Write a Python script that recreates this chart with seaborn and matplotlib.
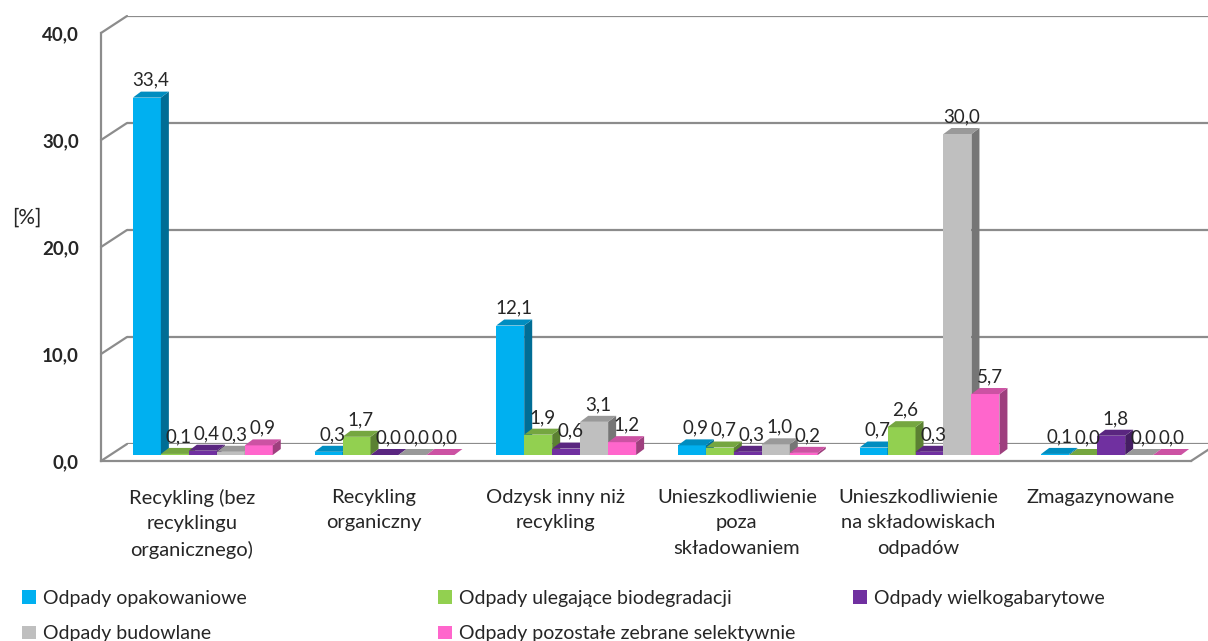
import numpy as np
import pandas as pd
import seaborn as sns
import matplotlib.pyplot as plt
from matplotlib.patches import Polygon, Patch
from matplotlib.lines import Line2D
import matplotlib.colors as mcolors

# ---------------------------------------------------------------
# data
# ---------------------------------------------------------------
categories = [
    "Recykling (bez\nrecyklingu\norganicznego)",
    "Recykling\norganiczny",
    "Odzysk inny niż\nrecykling",
    "Unieszkodliwienie\npoza\nskładowaniem",
    "Unieszkodliwienie\nna składowiskach\nodpadów",
    "Zmagazynowane",
]
series = [
    "Odpady opakowaniowe",
    "Odpady ulegające biodegradacji",
    "Odpady wielkogabarytowe",
    "Odpady budowlane",
    "Odpady pozostałe zebrane selektywnie",
]
opakowaniowe = [33.4, 0.3, 12.1, 0.9, 0.7, 0.1]
biodegradowalne = [0.1, 1.7, 1.9, 0.7, 2.6, 0.0]
wielkogabarytowe = [0.4, 0.0, 0.6, 0.3, 0.3, 1.8]
budowlane = [0.3, 0.0, 3.1, 1.0, 30.0, 0.0]
pozostale = [0.9, 0.0, 1.2, 0.2, 5.7, 0.0]
y_ticks = [0, 10, 20, 30, 40]

colors = ["#00B0F0", "#92D050", "#7030A0", "#BFBFBF", "#FF66CC"]

values = [opakowaniowe, biodegradowalne, wielkogabarytowe, budowlane, pozostale]
df = pd.DataFrame(
    [(cat, s, v[i]) for s, v in zip(series, values) for i, cat in enumerate(categories)],
    columns=["kategoria", "rodzaj", "udzial"],
)

sns.set_style("white")
plt.rcParams["font.family"] = ["Lato", "DejaVu Sans"]

W, H = 1208, 641
fig = plt.figure(figsize=(W / 100, H / 100), dpi=100)


def box(left, top, right, bottom):
    return [left / W, 1 - bottom / H, (right - left) / W, (bottom - top) / H]


GRID = "#8c8c8c"
ax_back = fig.add_axes(box(127, 16, 1217, 444))
ax_bars = fig.add_axes(box(112, 27, 1202, 455))
ax_front = fig.add_axes(box(101, 33, 1191, 461))

for ax in (ax_back, ax_bars, ax_front):
    ax.set_xlim(-0.5, 5.5)
    ax.set_ylim(0, 40)

# back wall with gridlines
ax_back.set_yticks(y_ticks)
ax_back.set_xticks([])
ax_back.tick_params(left=False, labelleft=False)
ax_back.grid(axis="y", color=GRID, lw=1.6)
for sp in ax_back.spines.values():
    sp.set_visible(False)

# bars
sns.barplot(data=df, x="kategoria", y="udzial", hue="rodzaj", order=categories,
            hue_order=series, palette=colors, saturation=1, width=0.77,
            legend=False, ax=ax_bars)
ax_bars.set_xlim(-0.5, 5.5)
ax_bars.set_ylim(0, 40)
ax_bars.set_axis_off()
ax_bars.patch.set_alpha(0)

px_x = (1090 / 6)
px_y = (428 / 40)
dx = 8 / px_x
dy = 6 / px_y

for k, (cont, col) in enumerate(zip(ax_bars.containers, colors)):
    rgb = np.array(mcolors.to_rgb(col))
    side_c = rgb * 0.62
    top_c = rgb * 0.8
    for bar in cont:
        x0, w, h = bar.get_x(), bar.get_width(), bar.get_height()
        bar.set_linewidth(0)
        bar.set_zorder(3 + k)
        side = Polygon([(x0 + w, 0), (x0 + w + dx, dy), (x0 + w + dx, h + dy), (x0 + w, h)],
                       closed=True, facecolor=side_c, lw=0, zorder=3.5 + k)
        top = Polygon([(x0, h), (x0 + w, h), (x0 + w + dx, h + dy), (x0 + dx, h + dy)],
                      closed=True, facecolor=top_c, lw=0, zorder=3.5 + k)
        ax_bars.add_patch(side)
        ax_bars.add_patch(top)
        ax_bars.annotate(f"{h:.1f}".replace(".", ","), xy=(x0 + w / 2 + dx / 2, h + dy),
                         xytext=(0, 2), textcoords="offset points", ha="center",
                         va="bottom", fontsize=13.5, zorder=20)

# front axis
ax_front.patch.set_alpha(0)
for name in ("top", "right"):
    ax_front.spines[name].set_visible(False)
for name in ("left", "bottom"):
    ax_front.spines[name].set_color(GRID)
    ax_front.spines[name].set_linewidth(1.6)
ax_front.set_yticks(y_ticks, labels=[f"{t:.1f}".replace(".", ",") for t in y_ticks])
ax_front.tick_params(axis="y", length=4, width=1.6, color=GRID, pad=12,
                     labelsize=13.5)
for lab in ax_front.get_yticklabels():
    lab.set_fontweight("bold")
ax_front.set_xticks(range(len(categories)), labels=categories)
ax_front.set_xticks(np.arange(-0.5, 6, 1), minor=True)
ax_front.tick_params(axis="x", which="major", length=0, pad=20, labelsize=14.5)
ax_front.tick_params(axis="x", which="minor", length=8, width=1.6, color=GRID)
for lab in ax_front.get_xticklabels():
    lab.set_linespacing(1.6)
ax_front.set_xlabel("")
ax_front.set_ylabel("")

# depth edges joining the front axis with the back wall
to_fig = fig.transFigure.inverted()
for v in y_ticks:
    a = to_fig.transform(ax_front.transData.transform((-0.5, v)))
    b = to_fig.transform(ax_back.transData.transform((-0.5, v)))
    fig.add_artist(Line2D([a[0], b[0]], [a[1], b[1]], color=GRID, lw=1.6))
a = to_fig.transform(ax_front.transData.transform((5.5, 0)))
b = to_fig.transform(ax_back.transData.transform((5.5, 0)))
fig.add_artist(Line2D([a[0], b[0]], [a[1], b[1]], color=GRID, lw=1.6))

fig.text(27 / W, 1 - 218 / H, "[%]", ha="center", va="center", fontsize=15)

# legend, three columns like in the reference
legend_cols = [([0, 3], 22), ([1, 4], 438), ([2], 853)]
for idx, xpos in legend_cols:
    fig.legend(handles=[Patch(facecolor=colors[i], lw=0) for i in idx],
               labels=[series[i] for i in idx], loc="upper left",
               bbox_to_anchor=(xpos / W, 1 - 590 / H), frameon=False,
               handlelength=0.7, handleheight=0.7, handletextpad=0.4,
               labelspacing=0.95, borderpad=0, borderaxespad=0, fontsize=14)

fig.savefig("out.png", dpi=100)
